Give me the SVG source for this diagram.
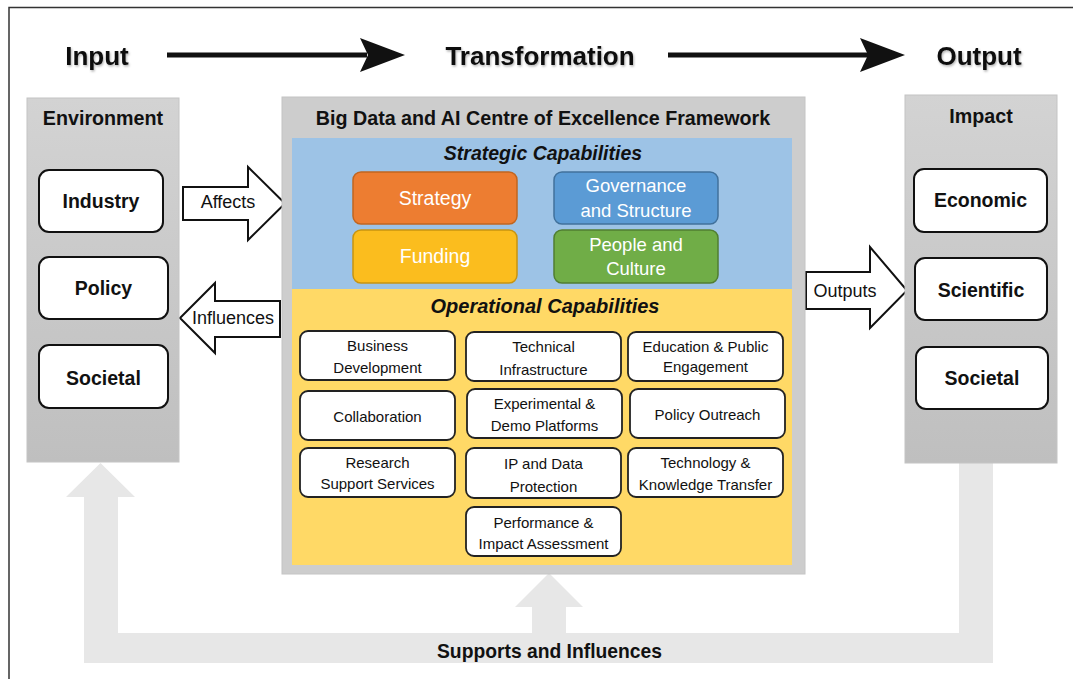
<svg xmlns="http://www.w3.org/2000/svg" width="1073" height="679" viewBox="0 0 1073 679">
<defs>
<linearGradient id="panelGrad" x1="0" y1="0" x2="0" y2="1">
<stop offset="0" stop-color="#d3d3d3"/>
<stop offset="1" stop-color="#bfbfbf"/>
</linearGradient>
<filter id="shadow" x="-10%" y="-20%" width="120%" height="150%">
<feDropShadow dx="1" dy="1.5" stdDeviation="1" flood-color="#000" flood-opacity="0.3"/>
</filter>
</defs>
<style>
text{font-family:"Liberation Sans",Arial,sans-serif;fill:#111;text-anchor:middle}
.head{font-size:26px;font-weight:bold}
.ptitle{font-size:19.7px;font-weight:bold}
.sec{font-size:19.5px;font-weight:bold;font-style:italic}
.node{fill:#fff;stroke:#111;stroke-width:2}
.nodet{font-size:19.5px;font-weight:bold}
.op{fill:#fff;stroke:#222;stroke-width:1.8}
.opt{font-size:15px}
.st{font-size:18.5px;fill:#fff}
.st1{font-size:19.5px;fill:#fff}
.hollow{fill:#fff;stroke:#111;stroke-width:2;stroke-linejoin:miter}
.lab{font-size:18px}
.panel{fill:url(#panelGrad);stroke:#c4c4c4;stroke-width:1}
</style>
<rect width="1073" height="679" fill="#fff"/>
<path d="M9,679 L9,7.5 L1073,7.5" fill="none" stroke="#333" stroke-width="1.5"/>

<g id="connectors">
<path id="feedback" d="M84,663 L84,497 L66,497 L100.5,463 L135,497 L118,497 L118,633 L532,633 L532,607 L515,607 L549,573 L583,607 L566,607 L566,633 L959,633 L959,463 L993,463 L993,663 Z" fill="#e7e7e7"/>
<g id="flow-arrows" fill="#111">
<rect x="167" y="52.5" width="200" height="5"/>
<path d="M360,38 L405,55 L360,72 L368,55 Z"/>
<rect x="668" y="52.5" width="200" height="5"/>
<path d="M860,38 L905,55 L860,72 L868,55 Z"/>
</g>
<g id="affects">
<path class="hollow" d="M183,187 L248,187 L248,167 L285,203.5 L248,240 L248,220 L183,220 Z"/>
<text class="lab" x="228" y="208">Affects</text>
</g>
<g id="influences">
<path class="hollow" d="M280,301 L215,301 L215,283 L180,318 L215,353 L215,337 L280,337 Z"/>
<text class="lab" x="233" y="324">Influences</text>
</g>
<g id="outputs">
<path class="hollow" d="M806,272 L870,272 L870,247 L907,290.5 L870,328 L870,309 L806,309 Z"/>
<text class="lab" x="845" y="297">Outputs</text>
</g>
</g>

<g id="headers" filter="url(#shadow)">
<text class="head" x="97" y="65">Input</text>
<text class="head" x="540" y="65">Transformation</text>
<text class="head" x="979" y="65">Output</text>
</g>

<g id="environment">
<rect class="panel" x="27" y="98" width="152" height="364"/>
<text class="ptitle" x="103" y="125">Environment</text>
<g id="env-industry">
<rect class="node" x="39" y="170" width="124" height="62" rx="10"/>
<text class="nodet" x="101" y="208">Industry</text>
</g>
<g id="env-policy">
<rect class="node" x="39" y="257" width="129" height="62" rx="10"/>
<text class="nodet" x="103.5" y="295">Policy</text>
</g>
<g id="env-societal">
<rect class="node" x="39" y="345" width="129" height="63" rx="10"/>
<text class="nodet" x="103.5" y="385">Societal</text>
</g>
</g>

<g id="framework">
<rect class="panel" x="282" y="97" width="523" height="477" fill="#cdcdcd" style="fill:#cdcdcd"/>
<text class="ptitle" x="543" y="125">Big Data and AI Centre of Excellence Framework</text>
<g id="strategic">
<rect x="292" y="138" width="500" height="151" fill="#9dc3e6"/>
<text class="sec" x="543" y="160">Strategic Capabilities</text>
<g id="sc-strategy">
<rect x="353" y="172" width="164" height="52" rx="8" fill="#ed7d31" stroke="#c1651f" stroke-width="1.5"/>
<text class="st1" x="435" y="205">Strategy</text>
</g>
<g id="sc-governance">
<rect x="554" y="172" width="164" height="52" rx="8" fill="#5b9bd5" stroke="#41719c" stroke-width="1.5"/>
<text class="st" x="636" y="192">Governance</text>
<text class="st" x="636" y="217">and Structure</text>
</g>
<g id="sc-funding">
<rect x="353" y="230" width="164" height="53" rx="8" fill="#fbbd1e" stroke="#c79410" stroke-width="1.5"/>
<text class="st1" x="435" y="263">Funding</text>
</g>
<g id="sc-people">
<rect x="554" y="230" width="164" height="53" rx="8" fill="#70ad47" stroke="#507e32" stroke-width="1.5"/>
<text class="st" x="636" y="251">People and</text>
<text class="st" x="636" y="275">Culture</text>
</g>
</g>
<g id="operational">
<rect x="292" y="289" width="500" height="276" fill="#ffd966"/>
<text class="sec" x="545" y="313" style="font-size:20px">Operational Capabilities</text>
<g id="op-business">
<rect class="op" x="300" y="331" width="155" height="49" rx="8"/>
<text class="opt" x="377.5" y="351">Business</text>
<text class="opt" x="377.5" y="373">Development</text>
</g>
<g id="op-technical">
<rect class="op" x="466" y="332" width="155" height="49" rx="8"/>
<text class="opt" x="543.5" y="352">Technical</text>
<text class="opt" x="543.5" y="375">Infrastructure</text>
</g>
<g id="op-education">
<rect class="op" x="628" y="332" width="155" height="49" rx="8"/>
<text class="opt" x="705.5" y="352">Education &amp; Public</text>
<text class="opt" x="705.5" y="372">Engagement</text>
</g>
<g id="op-collaboration">
<rect class="op" x="300" y="391" width="155" height="49" rx="8"/>
<text class="opt" x="377.5" y="422">Collaboration</text>
</g>
<g id="op-experimental">
<rect class="op" x="467" y="389" width="155" height="49" rx="8"/>
<text class="opt" x="544.5" y="409">Experimental &amp;</text>
<text class="opt" x="544.5" y="431">Demo Platforms</text>
</g>
<g id="op-policy">
<rect class="op" x="630" y="389" width="155" height="49" rx="8"/>
<text class="opt" x="707.5" y="420">Policy Outreach</text>
</g>
<g id="op-research">
<rect class="op" x="300" y="448" width="155" height="49" rx="8"/>
<text class="opt" x="377.5" y="468">Research</text>
<text class="opt" x="377.5" y="489">Support Services</text>
</g>
<g id="op-ip">
<rect class="op" x="466" y="448" width="155" height="50" rx="8"/>
<text class="opt" x="543.5" y="469">IP and Data</text>
<text class="opt" x="543.5" y="492">Protection</text>
</g>
<g id="op-techtransfer">
<rect class="op" x="628" y="448" width="155" height="49" rx="8"/>
<text class="opt" x="705.5" y="468">Technology &amp;</text>
<text class="opt" x="705.5" y="490">Knowledge Transfer</text>
</g>
<g id="op-performance">
<rect class="op" x="466" y="507" width="155" height="49" rx="8"/>
<text class="opt" x="543.5" y="528">Performance &amp;</text>
<text class="opt" x="543.5" y="549">Impact Assessment</text>
</g>
</g>
</g>

<g id="impact">
<rect class="panel" x="905" y="95" width="152" height="368"/>
<text class="ptitle" x="981" y="123">Impact</text>
<g id="imp-economic">
<rect class="node" x="914" y="169" width="133" height="63" rx="10"/>
<text class="nodet" x="980.5" y="207">Economic</text>
</g>
<g id="imp-scientific">
<rect class="node" x="915" y="258" width="132" height="62" rx="10"/>
<text class="nodet" x="981" y="297">Scientific</text>
</g>
<g id="imp-societal">
<rect class="node" x="916" y="347" width="132" height="62" rx="10"/>
<text class="nodet" x="982" y="385">Societal</text>
</g>
</g>

<text class="ptitle" x="549.5" y="658" style="font-size:19.3px">Supports and Influences</text>
</svg>
